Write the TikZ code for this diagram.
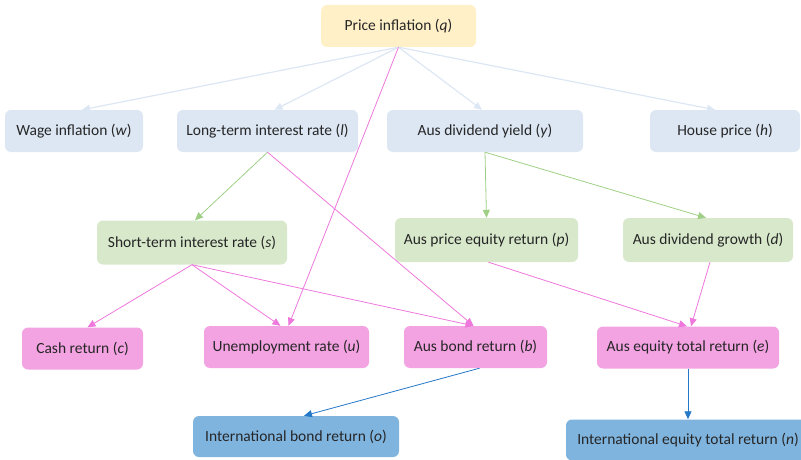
\documentclass[tikz,border=0pt]{standalone}
\usepackage{fontspec}
\setmainfont{Carlito}
\usetikzlibrary{arrows.meta}

\definecolor{qyellow}{HTML}{FFF0C8}
\definecolor{topblue}{HTML}{DCE7F3}
\definecolor{midgreen}{HTML}{D7E8CB}
\definecolor{lowpink}{HTML}{F3A3E2}
\definecolor{botblue}{HTML}{7FB4DF}
\definecolor{lineblue}{HTML}{DDE7F4}
\definecolor{linegreen}{HTML}{9ECF84}
\definecolor{linepink}{HTML}{EE78DC}
\definecolor{linedeep}{HTML}{2478C8}

\begin{document}
\begin{tikzpicture}[
x=1pt, y=-1pt,
font=\fontsize{15.5}{18}\selectfont,
box/.style={rounded corners=6pt, minimum height=42pt, inner sep=0pt, text=black!85},
yellownode/.style={box, fill=qyellow},
topnode/.style={box, fill=topblue},
greennode/.style={box, fill=midgreen, minimum height=44pt},
pinknode/.style={box, fill=lowpink},
deepnode/.style={box, fill=botblue, minimum height=41pt},
arr/.style={-{Triangle[length=8pt,width=7pt]}, line width=0.8pt},
]
\useasboundingbox (0,0) rectangle (801,460);

%Nodes
\node[yellownode, minimum width=155pt] (q) at (398.5,26)  {Price inflation (\textit{q})};
\node[topnode, minimum width=138pt]    (w) at (74,131)    {Wage inflation (\textit{w})};
\node[topnode, minimum width=181pt]    (l) at (267.5,131) {Long-term interest rate (\textit{l})};
\node[topnode, minimum width=196pt]    (y) at (485,131)   {Aus dividend yield (\textit{y})};
\node[topnode, minimum width=150pt]    (h) at (725,131)   {House price (\textit{h})};
\node[greennode, minimum width=190pt]  (s) at (192,242.5) {Short-term interest rate (\textit{s})};
\node[greennode, minimum width=183pt]  (p) at (486.5,240) {Aus price equity return (\textit{p})};
\node[greennode, minimum width=170pt]  (d) at (708,240)   {Aus dividend growth (\textit{d})};
\node[pinknode, minimum width=121pt]   (c) at (82.5,348.5) {Cash return (\textit{c})};
\node[pinknode, minimum width=165pt]   (u) at (286.5,347) {Unemployment rate (\textit{u})};
\node[pinknode, minimum width=143pt]   (b) at (475.5,347) {Aus bond return (\textit{b})};
\node[pinknode, minimum width=182pt]   (e) at (688,347.5) {Aus equity total return (\textit{e})};
\node[deepnode, minimum width=206pt]   (o) at (296,436.5) {International bond return (\textit{o})};
\node[deepnode, minimum width=244pt]   (n) at (688,440)   {International equity total return (\textit{n})};

%Lines
\draw[arr, lineblue, line width=1.2pt] (q.south) -- ([xshift=8pt]w.north);
\draw[arr, lineblue, line width=1.2pt] (q.south) -- ([xshift=7pt]l.north);
\draw[arr, lineblue, line width=1.2pt] (q.south) -- ([xshift=-3pt]y.north);
\draw[arr, lineblue, line width=1.2pt] (q.south) -- ([xshift=-10pt]h.north);
\draw[arr, linepink] (q.south) -- ([xshift=2pt]u.north);
\draw[arr, linegreen] (l.south) -- ([xshift=3pt]s.north);
\draw[arr, linepink] (l.south) -- ([xshift=-2pt]b.north);
\draw[arr, linegreen] (y.south) -- (p.north);
\draw[arr, linegreen] (y.south) -- ([xshift=-2pt]d.north);
\draw[arr, linepink] (s.south) -- ([xshift=5pt]c.north);
\draw[arr, linepink] (s.south) -- ([xshift=-6pt]u.north);
\draw[arr, linepink] (s.south) -- ([xshift=-2pt]b.north);
\draw[arr, linepink] ([xshift=2pt]p.south) -- ([xshift=-1pt]e.north);
\draw[arr, linepink] ([xshift=2pt]d.south) -- ([xshift=3pt]e.north);
\draw[arr, linedeep] ([xshift=4pt]b.south) -- ([xshift=8pt]o.north);
\draw[arr, linedeep] (e.south) -- (n.north);
\end{tikzpicture}
\end{document}
